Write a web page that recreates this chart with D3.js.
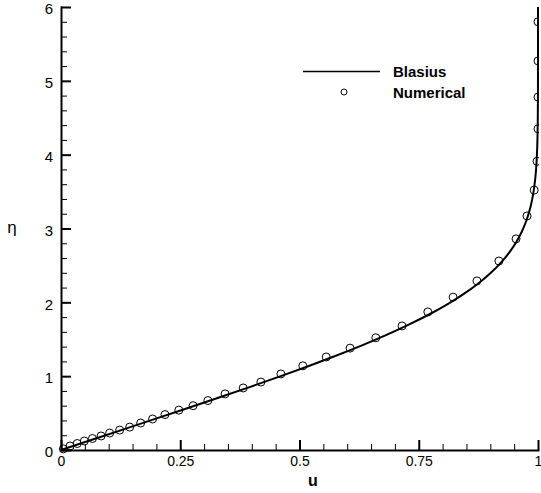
<!DOCTYPE html>
<html>
<head>
<meta charset="utf-8">
<script src="https://cdn.jsdelivr.net/npm/d3@7"></script>
<style>
    html, body { margin: 0; padding: 0; background: #fff; }
    svg text { font-family: "Liberation Sans", Arial, sans-serif; fill: #000; }
</style>
</head>
<body>
<script>
"use strict";

// Blasius solution, eta and u = f'
const blasiusEta = [0, 0.1414, 0.2828, 0.4243, 0.5657, 0.7071, 0.8485, 0.9899, 1.1314, 1.2728,
    1.4142, 1.5556, 1.6971, 1.8385, 1.9799, 2.1213, 2.2627, 2.4042, 2.5456, 2.6870,
    2.8284, 2.9698, 3.1113, 3.2527, 3.3941, 3.5355, 3.6770, 3.8184, 3.9598, 4.1012,
    4.2426, 4.5255, 4.8083, 5.0912, 5.3740, 5.6569, 5.9397, 6.0];
const blasiusU = [0, 0.06641, 0.13277, 0.19894, 0.26471, 0.32979, 0.39378, 0.45627, 0.51676, 0.57477,
    0.62977, 0.68132, 0.72899, 0.77246, 0.81152, 0.84605, 0.87609, 0.90177, 0.92333, 0.94112,
    0.95552, 0.96696, 0.97587, 0.98269, 0.98779, 0.99155, 0.99425, 0.99616, 0.99748, 0.99838,
    0.99898, 0.99961, 0.99987, 0.99996, 0.99999, 1.0, 1.0, 1.0];

// Numerical solution
const numEta = [0.015, 0.054, 0.088, 0.122, 0.156, 0.19, 0.23, 0.27, 0.31, 0.366,
    0.42, 0.48, 0.54, 0.60, 0.67, 0.76, 0.84, 0.92, 1.03, 1.14,
    1.26, 1.38, 1.52, 1.68, 1.87, 2.07, 2.29, 2.56, 2.86, 3.17,
    3.52, 3.91, 4.35, 4.78, 5.27, 5.80];
const numU = [0.005, 0.019, 0.034, 0.049, 0.066, 0.084, 0.102, 0.123, 0.144, 0.167,
    0.192, 0.218, 0.247, 0.277, 0.308, 0.344, 0.382, 0.419, 0.461, 0.507,
    0.556, 0.606, 0.660, 0.715, 0.769, 0.822, 0.872, 0.918, 0.954, 0.977,
    0.992, 0.998, 1.0, 1.0, 1.0, 1.0];

const xTicks = [0, 0.25, 0.5, 0.75, 1];
const xTickLabels = ['0', '0.25', '0.5', '0.75', '1'];
const yTicks = [0, 1, 2, 3, 4, 5, 6];
const yTickLabels = ['0', '1', '2', '3', '4', '5', '6'];
const legendLabels = ['Blasius', 'Numerical'];

const width = 541, height = 493;
const plotLeft = 61, plotRight = 538, plotTop = 7, plotBottom = 450;

const svg = d3.select('body').append('svg')
    .attr('width', width)
    .attr('height', height);

const x = d3.scaleLinear().domain([0, 1]).range([plotLeft, plotRight]);
const y = d3.scaleLinear().domain([0, 6]).range([plotBottom, plotTop]);

function drawAxes() {
    // minor ticks
    let xMinor = d3.range(0, 1.0001, 0.05).filter(v => Math.abs(v * 4 - Math.round(v * 4)) > 1e-6);
    let yMinor = d3.range(0, 6.0001, 0.2).filter(v => Math.abs(v - Math.round(v)) > 1e-6);

    svg.append('g')
        .attr('transform', `translate(0,${plotBottom})`)
        .call(d3.axisBottom(x).tickValues(xMinor).tickSize(-6).tickFormat(''))
        .call(g => g.select('.domain').remove())
        .call(g => g.selectAll('line').attr('stroke', '#000').attr('stroke-width', 1));
    svg.append('g')
        .attr('transform', `translate(${plotLeft},0)`)
        .call(d3.axisLeft(y).tickValues(yMinor).tickSize(-6).tickFormat(''))
        .call(g => g.select('.domain').remove())
        .call(g => g.selectAll('line').attr('stroke', '#000').attr('stroke-width', 1));

    // major ticks
    let xAxis = svg.append('g')
        .attr('transform', `translate(0,${plotBottom})`)
        .call(d3.axisBottom(x).tickValues(xTicks).tickSize(-10).tickSizeOuter(0).tickPadding(6)
            .tickFormat((d, i) => xTickLabels[i]));
    xAxis.selectAll('line').attr('stroke', '#000').attr('stroke-width', 2);
    xAxis.select('.domain').attr('stroke', '#000').attr('stroke-width', 2);
    xAxis.selectAll('text').attr('font-size', 14);

    let yAxis = svg.append('g')
        .attr('transform', `translate(${plotLeft},0)`)
        .call(d3.axisLeft(y).tickValues(yTicks).tickSize(-10).tickSizeOuter(0).tickPadding(8)
            .tickFormat((d, i) => yTickLabels[i]));
    yAxis.selectAll('line').attr('stroke', '#000').attr('stroke-width', 2);
    yAxis.select('.domain').attr('stroke', '#000').attr('stroke-width', 2);
    yAxis.selectAll('text').attr('font-size', 15).attr('dy', '0.45em');

    svg.selectAll('.domain').attr('stroke-linecap', 'square');
    svg.selectAll('text').attr('font-family', '"Liberation Sans", Arial, sans-serif');

    // titles
    svg.append('text')
        .attr('x', 313)
        .attr('y', 486)
        .attr('text-anchor', 'middle')
        .attr('font-size', 16)
        .attr('font-weight', 'bold')
        .text('u');
    svg.append('text')
        .attr('x', 12)
        .attr('y', 233)
        .attr('text-anchor', 'middle')
        .attr('font-size', 17)
        .text('η');
}

function drawSeries() {
    svg.append('clipPath')
        .attr('id', 'plot-clip')
        .append('rect')
        .attr('x', 0)
        .attr('y', 0)
        .attr('width', plotRight + 1)
        .attr('height', height);

    let plot = svg.append('g').attr('clip-path', 'url(#plot-clip)');

    let blasius = blasiusEta.map((e, i) => [blasiusU[i], e]);
    let line = d3.line()
        .x(d => x(d[0]))
        .y(d => y(d[1]))
        .curve(d3.curveMonotoneY);
    plot.append('path')
        .datum(blasius)
        .attr('d', line)
        .attr('fill', 'none')
        .attr('stroke', '#000')
        .attr('stroke-width', 2);

    let numerical = numEta.map((e, i) => [numU[i], e]);
    plot.selectAll('.num')
        .data(numerical)
        .enter().append('circle')
        .attr('class', 'num')
        .attr('cx', d => x(d[0]))
        .attr('cy', d => y(d[1]))
        .attr('r', 4)
        .attr('fill', 'none')
        .attr('stroke', '#000')
        .attr('stroke-width', 1);
}

function drawLegend() {
    svg.append('line')
        .attr('x1', 303)
        .attr('x2', 380)
        .attr('y1', 71.5)
        .attr('y2', 71.5)
        .attr('stroke', '#000')
        .attr('stroke-width', 1.5);
    svg.append('circle')
        .attr('cx', 344)
        .attr('cy', 92)
        .attr('r', 3)
        .attr('fill', 'none')
        .attr('stroke', '#000')
        .attr('stroke-width', 1);
    svg.selectAll('.legend-label')
        .data(legendLabels)
        .enter().append('text')
        .attr('class', 'legend-label')
        .attr('x', 393)
        .attr('y', (d, i) => 77 + i * 21)
        .attr('font-size', 15)
        .attr('font-weight', 'bold')
        .text(d => d);
}

drawSeries();
drawAxes();
drawLegend();
</script>
</body>
</html>
